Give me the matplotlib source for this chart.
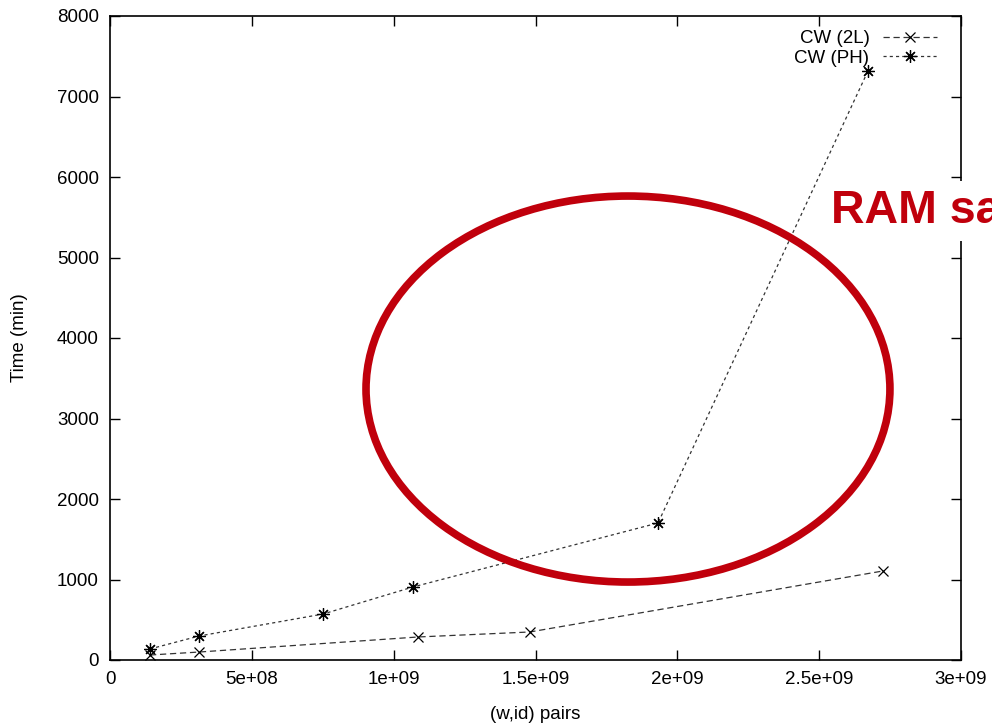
import matplotlib.pyplot as plt
from matplotlib.patches import Ellipse

plt.rcParams['font.family'] = ['Liberation Sans', 'DejaVu Sans']

# (w,id) pairs vs time in minutes
x_2l = [0.141e9, 0.314e9, 1.086e9, 1.480e9, 2.725e9]
y_2l = [62, 99, 286, 348, 1106]
x_ph = [0.141e9, 0.314e9, 0.751e9, 1.068e9, 1.932e9, 2.672e9]
y_ph = [137, 298, 571, 907, 1702, 7317]

xticks = [0, 0.5e9, 1e9, 1.5e9, 2e9, 2.5e9, 3e9]
xticklabels = ['0', '5e+08', '1e+09', '1.5e+09', '2e+09', '2.5e+09', '3e+09']
yticks = [0, 1000, 2000, 3000, 4000, 5000, 6000, 7000, 8000]

fig = plt.figure(figsize=(9.92, 7.23), dpi=100)
ax = fig.add_axes([110 / 992, 63 / 723, 851 / 992, 644 / 723])

ax.plot(x_2l, y_2l, color='#333333', lw=0.9, dashes=[5, 3], marker='x',
        ms=7, mew=0.9, mec='black', label='CW (2L)')
ax.plot(x_ph, y_ph, color='#333333', lw=0.9, dashes=[2.5, 2.5], marker=(8, 2, 0),
        ms=9, mew=0.9, mec='black', label='CW (PH)')

ax.set_xlim(0, 3e9)
ax.set_ylim(0, 8000)
ax.set_xticks(xticks)
ax.set_xticklabels(xticklabels)
ax.set_yticks(yticks)
ax.tick_params(direction='in', length=7, width=1, top=True, right=True, labelsize=13.5, pad=8)
for s in ax.spines.values():
    s.set_linewidth(1.2)

ax.set_xlabel('(w,id) pairs', fontsize=13.5, labelpad=13)
ax.set_ylabel('Time (min)', fontsize=13.5, labelpad=21)

ax.legend(loc='upper right', bbox_to_anchor=(0.9806, 0.990), frameon=False,
          markerfirst=False, fontsize=13.5, handlelength=2.9, borderaxespad=0,
          labelspacing=0.15, handletextpad=0.7)

ell = Ellipse((1.826e9, 3366), 1.847e9, 4795, fill=False, ec='#c0000c', lw=5.5, zorder=5)
ax.add_patch(ell)

fig.text(831 / 992, 1 - 223 / 723, 'RAM saturation', color='#c0000c', fontsize=33.5,
         fontweight='bold', ha='left', va='baseline',
         bbox=dict(facecolor='white', edgecolor='none', pad=6), zorder=10)

fig.savefig('out.png', dpi=100)
